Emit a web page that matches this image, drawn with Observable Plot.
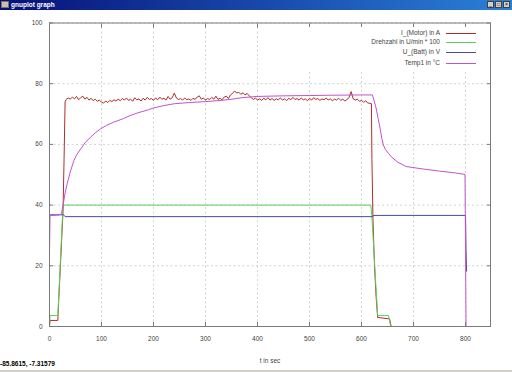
<!DOCTYPE html>
<html><head><meta charset="utf-8">
<script src="https://cdn.jsdelivr.net/npm/d3@7"></script>
<script src="https://cdn.jsdelivr.net/npm/@observablehq/plot@0.6"></script>
<style>
body{margin:0;background:#fff;width:512px;height:372px;overflow:hidden;position:relative;font-family:"Liberation Sans",Arial,sans-serif;}
#chart{position:absolute;left:0;top:0;}
#titlebar{position:absolute;left:0;top:0;width:512px;height:10px;background:linear-gradient(to right,#06107a,#2a80d8);}
#titlebar .icon{position:absolute;left:1px;top:1px;width:8px;height:7px;background:#c8c0b0;border:1px solid #807060;box-sizing:border-box;}
#titlebar .txt{position:absolute;left:11px;top:0;line-height:10px;font-size:6.5px;font-weight:bold;color:#fff;}
#titlebar .btn{position:absolute;top:1px;width:7px;height:7px;background:#d4d0c8;border:1px solid #404040;box-sizing:border-box;font-size:5px;line-height:5px;text-align:center;color:#000;}
#legend{position:absolute;left:285px;top:27px;width:203px;height:43px;background:#fff;}
#legend .row{position:absolute;left:0;width:203px;height:10px;}
#legend .lab{position:absolute;right:48px;top:0;line-height:10px;font-size:6.5px;color:#444;white-space:nowrap;}
#legend .sw{position:absolute;left:161px;top:5px;width:30px;height:1px;}
#status{position:absolute;left:0;top:359px;font-size:6.5px;font-weight:bold;color:#000;line-height:10px;}
#bottomline{position:absolute;left:0;top:370px;width:512px;height:2px;background:#d4d0c8;}
</style>
</head><body>
<div id="chart"></div>
<script>
// ---- data ----
const xTicks = [0,100,200,300,400,500,600,700,800];
const yTicks = [0,20,40,60,80,100];

const seriesNames = ["I_(Motor) in A","Drehzahl in U/min * 100","U_(Batt) in V","Temp1 in °C"];
const seriesColors = ["#b02c2c","#5ad05a","#4a4aa2","#c452cc"];

const motorT = [0,1,16,17,26,28,30,
 32,36,40,44,48,52,56,60,64,68,72,76,80,84,88,92,96,100,
 104,108,112,116,120,124,128,132,136,140,144,148,152,156,160,164,168,172,176,180,184,188,192,196,200,
 204,208,212,216,220,224,228,232,236,240,244,248,252,256,260,264,268,272,276,280,284,288,292,296,300,
 304,308,312,316,320,324,328,332,336,340,344,348,352,356,360,364,368,372,376,380,384,388,392,396,400,
 404,408,412,416,420,424,428,432,436,440,444,448,452,456,460,464,468,472,476,480,484,488,492,496,500,
 504,508,512,516,520,524,528,532,536,540,544,548,552,556,560,564,568,572,576,580,584,588,592,596,600,604,608,612,616,
 619,620,622,625,628,631,654,657];
const motorA = [0,2,2,6,38,55,74,
 74.8,75.3,74.9,75.6,75.0,75.8,74.7,75.4,75.9,74.9,75.5,74.6,75.2,74.4,74.9,74.2,74.6,73.9,
 73.6,74.3,73.8,74.5,74.1,74.7,74.3,74.9,74.4,75.1,74.6,75.3,74.5,74.9,74.2,75.4,74.7,75.0,74.3,75.2,74.6,75.5,74.8,75.1,74.5,
 75.3,74.7,75.6,74.9,75.2,74.6,75.8,74.9,75.4,76.9,75.3,74.8,75.1,74.6,75.3,74.7,75.0,74.5,75.2,74.8,75.6,76.0,74.9,75.3,74.6,
 75.1,74.8,75.5,74.9,75.9,74.8,75.2,74.7,75.6,75.9,75.1,76.3,76.8,77.6,76.9,77.2,76.5,77.0,76.3,76.8,76.0,75.4,74.8,75.3,74.6,
 75.0,74.5,75.2,74.7,75.4,74.6,75.1,74.5,75.0,74.7,75.3,74.6,75.0,74.4,75.2,74.7,75.5,74.8,75.1,74.6,75.3,74.7,75.0,74.4,75.2,
 74.6,75.4,74.8,75.1,74.5,75.0,74.7,75.3,74.6,75.0,74.4,74.9,74.6,75.2,74.5,74.9,74.3,74.8,75.4,77.4,75.0,74.6,74.9,74.2,74.5,73.9,74.3,73.7,73.5,
 73.4,55,35,20,10,3,2.5,0];

const speedT = [0,1,16,26,618,620,631,652,656];
const speedV = [0,3.6,3.6,40,40,36,3.6,3.6,0];

const battT = [0,27,30,620,624,800,801,802];
const battV = [36.8,36.8,36.2,36.2,36.6,36.6,25,18.2];

const tempT = [0,1,20,23,26,30,34,40,47,52,60,68,79,88,98,110,123,142,155,170,190,200,220,240,270,300,330,347,370,399,450,500,540,600,621,628,632,636,639,642,646,652,658,670,686,718,750,780,799,801];
const tempV = [24.5,36.5,36.8,37.2,39.9,44,47,51,54.7,56.5,58.5,60.5,62.4,63.8,65.1,66.3,67.3,68.5,69.5,70.4,71.4,72,72.8,73.4,73.8,74.1,74.5,74.8,75.4,75.8,76.0,76.1,76.2,76.3,76.3,72,68.5,65,62,59.8,58.3,57,55.8,54.1,52.7,51.9,51.2,50.6,50.1,0];

const toRows = (T, V) => T.map((t, i) => ({t, v: V[i]}));
const series = [toRows(motorT, motorA), toRows(speedT, speedV), toRows(battT, battV), toRows(tempT, tempV)];

const chart = Plot.plot({
  width: 512, height: 372,
  marginLeft: 49, marginRight: 22, marginTop: 22.5, marginBottom: 46,
  x: {domain: [0, 848], label: null},
  y: {domain: [0, 100], label: null},
  style: {fontFamily: "Liberation Sans, Arial, sans-serif", fontSize: "6.5px", color: "#444", background: "transparent"},
  marks: [
    Plot.gridX(xTicks, {stroke: "#d2d2d2", strokeOpacity: 1, strokeDasharray: "2,2.5"}),
    Plot.gridY(yTicks, {stroke: "#d2d2d2", strokeOpacity: 1, strokeDasharray: "2,2.5"}),
    ...series.map((s, i) => Plot.line(s, {x: "t", y: "v", stroke: seriesColors[i], strokeWidth: 1})),
    Plot.frame({stroke: "#7a7a7a"}),
    Plot.axisX(xTicks, {anchor: "bottom", tickSize: 0, tickPadding: 10, label: null, fill: "#444"}),
    Plot.axisY(yTicks, {anchor: "left", tickSize: 0, tickPadding: 7, label: null, fill: "#444"}),
    Plot.axisX(xTicks, {anchor: "bottom", tickSize: -4, tickFormat: () => "", label: null, stroke: "#7a7a7a"}),
    Plot.axisX(xTicks, {anchor: "top", tickSize: -4, tickFormat: () => "", label: null, stroke: "#7a7a7a"}),
    Plot.axisY(yTicks, {anchor: "left", tickSize: -4, tickFormat: () => "", label: null, stroke: "#7a7a7a"}),
    Plot.axisY(yTicks, {anchor: "right", tickSize: -4, tickFormat: () => "", label: null, stroke: "#7a7a7a"}),
    Plot.text(["t in sec"], {frameAnchor: "bottom", dy: 36, fill: "#444", fontSize: 6.5})
  ]
});
document.getElementById("chart").appendChild(chart);

// title bar
const tb = document.createElement("div");
tb.id = "titlebar";
tb.innerHTML = '<div class="icon"></div><div class="txt">gnuplot graph</div>' +
  '<div class="btn" style="left:487px">_</div><div class="btn" style="left:495px">□</div><div class="btn" style="left:503px">×</div>';
document.body.appendChild(tb);

// legend
const lg = document.createElement("div");
lg.id = "legend";
const rowTops = [0.7, 10, 20.3, 30.7];
seriesNames.forEach((n, i) => {
  const r = document.createElement("div");
  r.className = "row";
  r.style.top = rowTops[i] + "px";
  r.innerHTML = `<div class="lab">${n}</div><div class="sw" style="background:${seriesColors[i]}"></div>`;
  lg.appendChild(r);
});
document.body.appendChild(lg);

const st = document.createElement("div");
st.id = "status";
st.textContent = "-85.8615, -7.31579";
document.body.appendChild(st);
const bl = document.createElement("div");
bl.id = "bottomline";
document.body.appendChild(bl);
</script>
</body></html>
